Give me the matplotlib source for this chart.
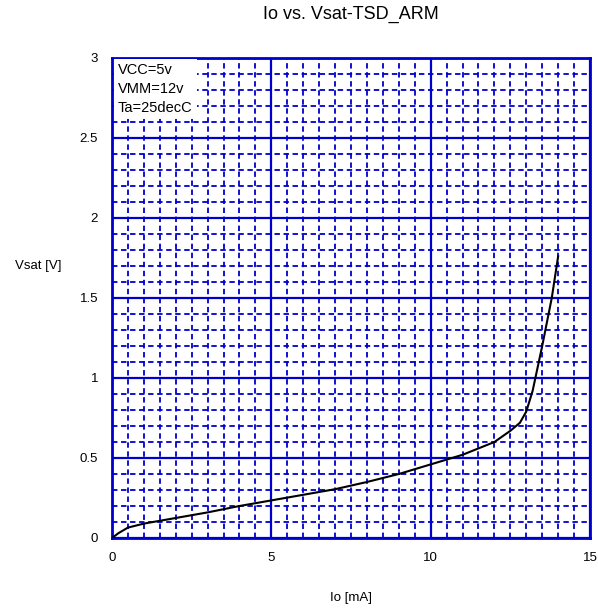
import matplotlib
matplotlib.use("Agg")
import matplotlib.pyplot as plt
from matplotlib.ticker import MultipleLocator

plt.rcParams['font.family'] = ['Liberation Sans', 'DejaVu Sans']

# Io [mA] vs Vsat [V]
io_ma = [0, 0.2, 0.5, 1, 2, 3, 4, 5, 6, 7, 8, 9, 10, 11, 12, 12.5, 12.8, 13.0, 13.2, 13.5, 13.8, 14.0]
vsat_v = [0, 0.03, 0.065, 0.09, 0.125, 0.16, 0.20, 0.235, 0.27, 0.305, 0.35, 0.40, 0.46, 0.52, 0.60, 0.67, 0.72, 0.79, 0.92, 1.20, 1.50, 1.76]

notes = ["VCC=5v", "VMM=12v", "Ta=25decC"]
grid_blue = "#0000cc"

fig = plt.figure(figsize=(5.98, 6.09), dpi=100)
ax = fig.add_axes([112 / 598, 1 - 538 / 609, 478 / 598, 480 / 609])

ax.plot(io_ma, vsat_v, color="black", lw=1.5, zorder=5)

ax.set_xlim(0, 15)
ax.set_ylim(0, 3)
ax.xaxis.set_major_locator(MultipleLocator(5))
ax.xaxis.set_minor_locator(MultipleLocator(0.5))
ax.yaxis.set_major_locator(MultipleLocator(0.5))
ax.yaxis.set_minor_locator(MultipleLocator(0.1))
ax.set_yticks([0, 0.5, 1, 1.5, 2, 2.5, 3])
ax.set_yticklabels(["0", "0.5", "1", "1.5", "2", "2.5", "3"])

ax.grid(which="major", color=grid_blue, lw=1.6, zorder=1)
ax.grid(which="minor", color=grid_blue, lw=1.3, ls=(0, (3, 2)), zorder=1)
ax.tick_params(which="both", length=0, labelsize=9.5, pad=10)
for s in ax.spines.values():
    s.set_color(grid_blue)
    s.set_linewidth(2)

ax.text(0.012, 0.99, "\n".join(notes), transform=ax.transAxes, va="top", ha="left",
        fontsize=10.5, linespacing=1.45, zorder=6,
        bbox=dict(facecolor="white", edgecolor="none", pad=3))

ax.set_title("Io vs. Vsat-TSD_ARM", fontsize=13, pad=28)
ax.set_xlabel("Io [mA]", fontsize=9.5, labelpad=20)
ax.set_ylabel("Vsat [V]", fontsize=9.5, rotation=0, labelpad=30)
ax.yaxis.set_label_coords(-0.155, 0.555)

fig.savefig("out.png", dpi=100)
